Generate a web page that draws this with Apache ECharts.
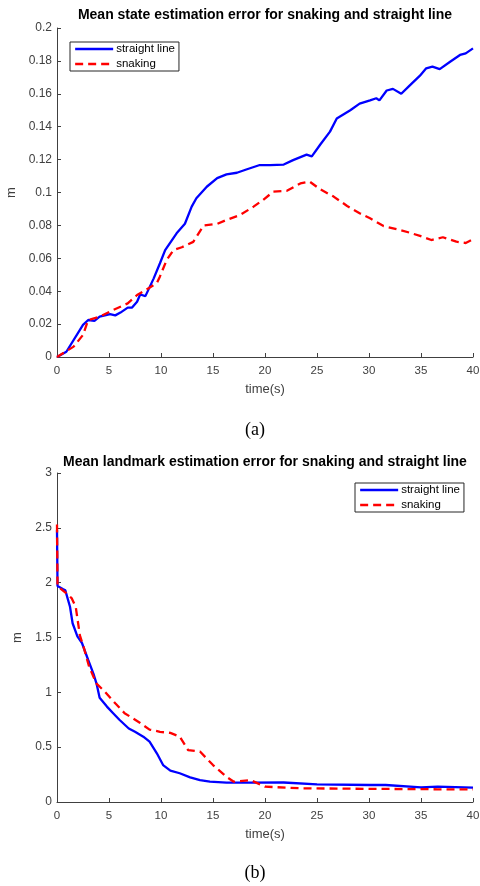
<!DOCTYPE html>
<html>
<head>
<meta charset="utf-8">
<script src="https://cdn.jsdelivr.net/npm/echarts@6/dist/echarts.min.js"></script>
<style>
html,body{margin:0;padding:0;background:#fff;}
#chart{width:480px;height:886px;}
</style>
</head>
<body>
<div id="chart"></div>
<script>
// ---- Data ----
var seriesNames = ['straight line', 'snaking'];
var xTicks = [0, 5, 10, 15, 20, 25, 30, 35, 40];
var stateYTicks = [0, 0.02, 0.04, 0.06, 0.08, 0.1, 0.12, 0.14, 0.16, 0.18, 0.2];
var landmarkYTicks = [0, 0.5, 1, 1.5, 2, 2.5, 3];

// (a) mean state estimation error
var stateStraightT = [0,0.9,2.5,3.0,3.6,4.1,5.1,5.6,6.1,6.8,7.2,7.7,8.0,8.5,9.3,9.9,10.4,11.5,12.3,12.95,13.4,14.4,15.4,16.3,17.3,18.2,19.5,20.5,21.8,22.7,24.0,24.5,25.3,26.25,26.9,28.2,29.1,30.1,30.7,31.0,31.7,32.3,33.1,33.9,34.9,35.5,36.1,36.8,37.8,38.75,39.3,40];
var stateStraightV = [0,0.0032,0.0195,0.0225,0.022,0.0245,0.026,0.0253,0.027,0.030,0.030,0.0336,0.038,0.037,0.0478,0.057,0.065,0.0752,0.081,0.0914,0.0965,0.1035,0.1087,0.111,0.112,0.114,0.1167,0.1167,0.117,0.1197,0.123,0.122,0.129,0.137,0.145,0.150,0.154,0.156,0.1573,0.156,0.162,0.163,0.160,0.165,0.171,0.1755,0.1765,0.175,0.1795,0.1836,0.1846,0.1876];
var stateSnakingT = [0,1.6,2.5,3.0,4.1,5.4,6.8,7.7,8.6,9.6,9.9,10.55,11.2,12.0,13.1,14.1,15.4,16.3,17.6,18.9,19.8,20.8,22.1,23.4,24.3,25.3,26.6,27.9,29.1,30.1,31.4,32.7,33.9,34.9,36.0,37.1,38.4,39.3,40];
var stateSnakingV = [0,0.0063,0.0134,0.0225,0.0245,0.0286,0.0326,0.0377,0.041,0.045,0.049,0.059,0.065,0.0667,0.070,0.080,0.0809,0.0833,0.0863,0.0914,0.0954,0.1005,0.101,0.1055,0.1066,0.102,0.0975,0.0918,0.0874,0.0843,0.0796,0.0776,0.0756,0.0736,0.0711,0.0728,0.0701,0.0693,0.0716];

// (b) mean landmark estimation error
var landStraightT = [0,0.05,0.6,0.8,1.25,1.5,1.96,2.4,3.0,3.5,3.8,4.1,4.8,5.4,6.0,6.9,7.5,8.3,8.9,9.6,10.2,10.9,11.8,12.8,13.75,14.7,16.3,18.6,21.8,25,30,31.6,35,36.6,40];
var landStraightV = [2.48,1.97,1.94,1.93,1.78,1.63,1.51,1.45,1.295,1.17,1.08,0.95,0.87,0.81,0.75,0.67,0.64,0.596,0.55,0.444,0.337,0.286,0.262,0.225,0.20,0.185,0.176,0.176,0.178,0.161,0.155,0.155,0.134,0.14,0.131];
var landSnakingT = [0,0.05,0.3,0.93,1.4,1.8,2.2,2.6,3.1,3.8,4.6,5.6,6.5,8.0,8.9,9.9,10.9,11.8,12.6,13.75,15.0,16.3,17.0,18.6,20,23.4,30,36.6,40];
var landSnakingV = [2.53,1.97,1.95,1.90,1.86,1.78,1.52,1.40,1.23,1.08,1.006,0.90,0.81,0.72,0.66,0.64,0.63,0.596,0.474,0.46,0.337,0.23,0.185,0.20,0.14,0.125,0.12,0.116,0.116];

function pairs(t, v) { return t.map(function (x, i) { return [x, v[i]]; }); }

var AXIS = '#404040';
var FONT = 'Liberation Sans, Arial, sans-serif';

function xAxisCfg(gi) {
  return {
    gridIndex: gi, type: 'value', min: xTicks[0], max: xTicks[xTicks.length - 1],
    interval: xTicks[1] - xTicks[0],
    name: 'time(s)', nameLocation: 'middle', nameGap: 26,
    nameTextStyle: { color: AXIS, fontSize: 13, fontFamily: FONT, verticalAlign: 'top' },
    axisLine: { show: true, lineStyle: { color: AXIS, width: 1 } },
    axisTick: { show: true, inside: true, length: 4, lineStyle: { color: AXIS } },
    axisLabel: { color: AXIS, fontSize: 11.5, fontFamily: FONT, margin: 8, showMaxLabel: true, showMinLabel: true },
    splitLine: { show: false }
  };
}
function yAxisCfg(gi, ticks, gap) {
  return {
    gridIndex: gi, type: 'value', min: ticks[0], max: ticks[ticks.length - 1],
    interval: ticks[1] - ticks[0],
    name: 'm', nameLocation: 'middle', nameGap: gap, nameRotate: 90,
    nameTextStyle: { color: AXIS, fontSize: 13, fontFamily: FONT },
    axisLine: { show: true, lineStyle: { color: AXIS, width: 1 } },
    axisTick: { show: true, inside: true, length: 4, lineStyle: { color: AXIS } },
    axisLabel: { color: AXIS, fontSize: 12, fontFamily: FONT, margin: 5,
      formatter: function (v) { return String(parseFloat(v.toFixed(3))); } },
    splitLine: { show: false }
  };
}
function lineSeries(name, xi, data, dashed) {
  return {
    name: name, type: 'line', xAxisIndex: xi, yAxisIndex: xi, data: data,
    symbol: 'none', smooth: false, silent: true,
    lineStyle: { color: dashed ? '#ff0000' : '#0000ff', width: 2.3, type: dashed ? [8, 5] : 'solid' },
    itemStyle: { color: dashed ? '#ff0000' : '#0000ff' },
    z: dashed ? 3 : 2
  };
}
function legendCfg(left, top) {
  return {
    data: seriesNames, orient: 'vertical', left: left, top: top,
    padding: [1, 4, 1, 4], itemWidth: 38, itemHeight: 14, itemGap: 3,
    selectedMode: false, borderColor: '#262626', borderWidth: 1, backgroundColor: '#fff',
    itemStyle: { color: 'rgba(0,0,0,0)', borderWidth: 0, opacity: 0 },
    lineStyle: { width: 2.3 },
    textStyle: { color: '#000', fontSize: 11.5, fontFamily: FONT, padding: [0, 0, 0, -2] }
  };
}

var chart = echarts.init(document.getElementById('chart'), null, { renderer: 'canvas' });
chart.setOption({
  animation: false,
  backgroundColor: '#fff',
  grid: [
    { left: 57, top: 28, width: 416, height: 329, containLabel: false, outerBoundsMode: 'none' },
    { left: 57, top: 473, width: 416, height: 329, containLabel: false, outerBoundsMode: 'none' }
  ],
  xAxis: [xAxisCfg(0), xAxisCfg(1)],
  yAxis: [yAxisCfg(0, stateYTicks, 34), yAxisCfg(1, landmarkYTicks, 25)],
  legend: [legendCfg(70, 42), legendCfg(355, 483)],
  series: [
    lineSeries(seriesNames[0], 0, pairs(stateStraightT, stateStraightV), false),
    lineSeries(seriesNames[1], 0, pairs(stateSnakingT, stateSnakingV), true),
    lineSeries(seriesNames[0], 1, pairs(landStraightT, landStraightV), false),
    lineSeries(seriesNames[1], 1, pairs(landSnakingT, landSnakingV), true)
  ],
  graphic: [
    { type: 'text', x: 265, y: 15, style: { text: 'Mean state estimation error for snaking and straight line',
      font: 'bold 14px ' + FONT, fill: '#000', textAlign: 'center', textVerticalAlign: 'middle' } },
    { type: 'text', x: 265, y: 462, style: { text: 'Mean landmark estimation error for snaking and straight line',
      font: 'bold 14px ' + FONT, fill: '#000', textAlign: 'center', textVerticalAlign: 'middle' } },
    { type: 'text', x: 255, y: 430, style: { text: '(a)', font: '18px Liberation Serif, Times New Roman, serif',
      fill: '#000', textAlign: 'center', textVerticalAlign: 'middle' } },
    { type: 'text', x: 255, y: 873, style: { text: '(b)', font: '18px Liberation Serif, Times New Roman, serif',
      fill: '#000', textAlign: 'center', textVerticalAlign: 'middle' } }
  ]
});
</script>
</body>
</html>
